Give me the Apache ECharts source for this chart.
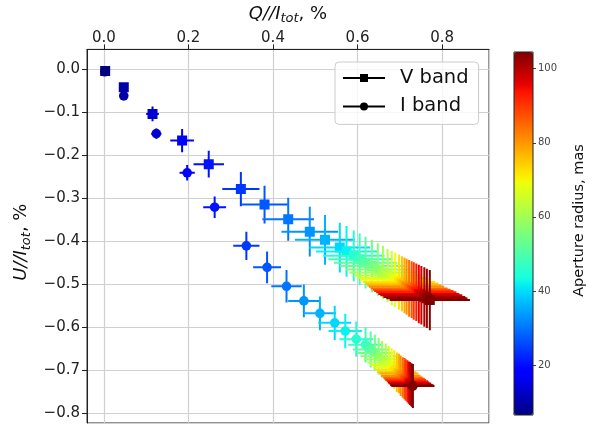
<!DOCTYPE html>
<html>
<head>
<meta charset="utf-8">
<script src="https://cdn.jsdelivr.net/npm/echarts@6/dist/echarts.min.js"></script>
<style>
html,body{margin:0;padding:0;background:#fff;}
#chart{width:600px;height:427px;}
</style>
</head>
<body>
<div id="chart"></div>
<script>
// Aperture radius (mas) for each measurement
var radii = [6.5, 10, 13.5, 17, 20.5, 24, 27, 30, 33, 36, 39.5, 42, 45, 48, 51, 54, 57, 60, 63, 66, 69, 72, 75, 78, 81, 84, 87, 90, 93, 96, 98.5, 101, 103, 104.5];

// V band
var vQ = [0.003, 0.047, 0.115, 0.185, 0.248, 0.324, 0.380, 0.436, 0.487, 0.523, 0.558, 0.574, 0.591, 0.605, 0.619, 0.634, 0.648, 0.660, 0.671, 0.681, 0.689, 0.698, 0.705, 0.711, 0.716, 0.722, 0.728, 0.733, 0.739, 0.745, 0.751, 0.758, 0.764, 0.771];
var vU = [-0.004, -0.042, -0.104, -0.166, -0.221, -0.279, -0.315, -0.349, -0.378, -0.397, -0.415, -0.424, -0.434, -0.442, -0.450, -0.458, -0.466, -0.473, -0.480, -0.486, -0.490, -0.495, -0.499, -0.503, -0.506, -0.510, -0.513, -0.516, -0.519, -0.523, -0.526, -0.530, -0.533, -0.537];
var vQerr = [0.006, 0.010, 0.015, 0.028, 0.036, 0.044, 0.055, 0.061, 0.067, 0.071, 0.072, 0.072, 0.073, 0.074, 0.075, 0.076, 0.077, 0.079, 0.080, 0.082, 0.083, 0.085, 0.086, 0.088, 0.089, 0.091, 0.092, 0.094, 0.095, 0.096, 0.097, 0.097, 0.096, 0.095];
var vUerr = [0.006, 0.010, 0.017, 0.027, 0.031, 0.040, 0.044, 0.050, 0.058, 0.058, 0.058, 0.059, 0.059, 0.060, 0.060, 0.061, 0.061, 0.062, 0.062, 0.063, 0.063, 0.064, 0.064, 0.065, 0.065, 0.066, 0.066, 0.067, 0.067, 0.068, 0.068, 0.069, 0.069, 0.070];

// I band
var iQ = [0.002, 0.047, 0.124, 0.197, 0.262, 0.337, 0.386, 0.432, 0.473, 0.511, 0.546, 0.571, 0.597, 0.619, 0.631, 0.641, 0.650, 0.658, 0.667, 0.674, 0.681, 0.687, 0.693, 0.698, 0.702, 0.707, 0.711, 0.714, 0.718, 0.721, 0.724, 0.727, 0.729, 0.731];
var iU = [-0.006, -0.062, -0.150, -0.241, -0.321, -0.411, -0.461, -0.505, -0.539, -0.568, -0.590, -0.609, -0.628, -0.641, -0.652, -0.660, -0.668, -0.675, -0.682, -0.688, -0.694, -0.699, -0.705, -0.708, -0.713, -0.717, -0.720, -0.723, -0.726, -0.729, -0.731, -0.734, -0.735, -0.737];
var iQerr = [0.005, 0.008, 0.012, 0.018, 0.027, 0.031, 0.033, 0.036, 0.037, 0.038, 0.039, 0.040, 0.040, 0.041, 0.042, 0.042, 0.043, 0.043, 0.044, 0.044, 0.045, 0.045, 0.046, 0.046, 0.047, 0.047, 0.048, 0.048, 0.049, 0.049, 0.050, 0.050, 0.051, 0.051];
var iUerr = [0.005, 0.008, 0.012, 0.018, 0.025, 0.033, 0.037, 0.038, 0.038, 0.039, 0.040, 0.040, 0.041, 0.041, 0.042, 0.042, 0.043, 0.043, 0.044, 0.044, 0.045, 0.045, 0.046, 0.046, 0.047, 0.047, 0.048, 0.048, 0.049, 0.049, 0.050, 0.050, 0.050, 0.051];

var colorbarTicks = [20, 40, 60, 80, 100];
var radiusMin = 6.5, radiusMax = 104.5;

// matplotlib "jet" colormap
function interp(pts, t) {
  for (var k = 1; k < pts.length; k++) {
    if (t <= pts[k][0]) {
      var a = pts[k - 1], b = pts[k];
      return a[1] + (b[1] - a[1]) * (t - a[0]) / (b[0] - a[0]);
    }
  }
  return pts[pts.length - 1][1];
}
var R = [[0, 0], [0.35, 0], [0.66, 1], [0.89, 1], [1, 0.5]];
var G = [[0, 0], [0.125, 0], [0.375, 1], [0.64, 1], [0.91, 0], [1, 0]];
var B = [[0, 0.5], [0.11, 1], [0.34, 1], [0.65, 0], [1, 0]];
var jet = [];
for (var s = 0; s <= 64; s++) {
  var t = s / 64;
  jet.push('rgb(' + Math.round(interp(R, t) * 255) + ',' + Math.round(interp(G, t) * 255) + ',' + Math.round(interp(B, t) * 255) + ')');
}

function build(q, u, qe, ue) {
  return q.map(function (v, k) { return [v, u[k], qe[k], ue[k], radii[k]]; });
}

function makeRender(shape) {
  return function (params, api) {
    var x = api.value(0), y = api.value(1), ex = api.value(2), ey = api.value(3);
    var c = api.visual('color');
    var p = api.coord([x, y]);
    var l = api.coord([x - ex, y]), r = api.coord([x + ex, y]);
    var t = api.coord([x, y + ey]), b = api.coord([x, y - ey]);
    var marker = shape === 'rect'
      ? { type: 'rect', shape: { x: p[0] - 5, y: p[1] - 5, width: 10, height: 10 }, style: { fill: c } }
      : { type: 'circle', shape: { cx: p[0], cy: p[1], r: 4.8 }, style: { fill: c } };
    return {
      type: 'group',
      children: [
        { type: 'line', shape: { x1: l[0], y1: l[1], x2: r[0], y2: r[1] }, style: { stroke: c, lineWidth: 2 } },
        { type: 'line', shape: { x1: t[0], y1: t[1], x2: b[0], y2: b[1] }, style: { stroke: c, lineWidth: 2 } },
        marker
      ]
    };
  };
}

function fmt(v) {
  return (v < -1e-9 ? '\u2212' : '') + Math.abs(v).toFixed(1);
}

var FONT = 'DejaVu Sans';
var chart = echarts.init(document.getElementById('chart'), null, { renderer: 'canvas' });
var titleRich = {
  i: { fontFamily: FONT, fontStyle: 'italic', fontSize: 18, color: '#111' },
  s: { fontFamily: FONT, fontStyle: 'italic', fontSize: 13, color: '#111', padding: [10, 0, 0, 0] },
  n: { fontFamily: FONT, fontSize: 18, color: '#111' }
};

chart.setOption({
  animation: false,
  backgroundColor: '#fff',
  grid: [
    { left: 87, top: 47, width: 402, height: 376, show: true, borderColor: '#222', borderWidth: 1, backgroundColor: 'transparent' },
    { left: 514, top: 52, width: 19, height: 363, show: true, borderColor: '#222', borderWidth: 1, backgroundColor: 'transparent', z: 10 }
  ],
  xAxis: [
    {
      type: 'value', gridIndex: 0, position: 'top', min: -0.04, max: 0.911, splitNumber: 5,
      name: '{i|Q//I}{s|tot}{n|, %}', nameLocation: 'middle', nameGap: 19,
      nameTextStyle: { rich: titleRich },
      axisLine: { show: true, onZero: false, lineStyle: { color: '#222', width: 1 } },
      axisTick: { show: true, length: 5, lineStyle: { color: '#222' } },
      axisLabel: { fontFamily: FONT, fontSize: 15, color: '#222', margin: 4, showMinLabel: false, showMaxLabel: false, formatter: fmt },
      splitLine: { show: true, lineStyle: { color: '#d0d0d0', width: 1.2 } }
    },
    { type: 'value', gridIndex: 1, min: 0, max: 1, show: false }
  ],
  yAxis: [
    {
      type: 'value', gridIndex: 0, min: -0.823, max: 0.046, splitNumber: 9,
      name: '{i|U//I}{s|tot}{n|, %}', nameLocation: 'middle', nameGap: 42, nameRotate: 90,
      nameTextStyle: { rich: titleRich, padding: [0, 12, 0, 0] },
      axisLine: { show: true, onZero: false, lineStyle: { color: '#222', width: 1 } },
      axisTick: { show: true, length: 5, lineStyle: { color: '#222' } },
      axisLabel: { fontFamily: FONT, fontSize: 15, color: '#222', margin: 7, showMinLabel: false, showMaxLabel: false, formatter: fmt },
      splitLine: { show: true, lineStyle: { color: '#d0d0d0', width: 1.2 } }
    },
    {
      type: 'value', gridIndex: 1, position: 'right', min: radiusMin, max: radiusMax, splitNumber: 5,
      name: 'Aperture radius, mas', nameLocation: 'middle', nameGap: 39, nameRotate: 90,
      nameTextStyle: { fontFamily: FONT, fontSize: 14.5, color: '#111', padding: [0, 0, 0, 26] },
      axisLine: { show: false, onZero: false },
      axisTick: { show: true, length: 3, customValues: colorbarTicks, lineStyle: { color: '#444' } },
      axisLabel: { fontFamily: FONT, fontSize: 10, color: '#444', margin: 5, customValues: colorbarTicks },
      splitLine: { show: false }
    }
  ],
  visualMap: {
    type: 'continuous', min: radiusMin, max: radiusMax, dimension: 4, seriesIndex: [0, 1],
    inRange: { color: jet }, calculable: false, hoverLink: false, realtime: false,
    left: 514, top: 52, itemWidth: 19, itemHeight: 363, padding: 0, text: null, show: true
  },
  legend: {
    orient: 'vertical', left: 335, top: 62, padding: [5, 10, 7, 7], itemGap: 6.4,
    itemWidth: 42, itemHeight: 10,
    backgroundColor: 'rgba(255,255,255,0.8)', borderColor: '#cccccc', borderWidth: 1, borderRadius: 4,
    textStyle: { fontFamily: FONT, fontSize: 19.5, color: '#111', lineHeight: 22, padding: [0, 0, 0, 10] },
    data: ['V band', 'I band'],
    selectedMode: false
  },
  series: [
    {
      type: 'custom', name: 'V data', xAxisIndex: 0, yAxisIndex: 0,
      renderItem: makeRender('rect'), data: build(vQ, vU, vQerr, vUerr), clip: true, z: 3
    },
    {
      type: 'custom', name: 'I data', xAxisIndex: 0, yAxisIndex: 0,
      renderItem: makeRender('circle'), data: build(iQ, iU, iQerr, iUerr), clip: true, z: 3
    },
    {
      type: 'line', name: 'V band', data: [], symbol: 'rect', symbolSize: 9,
      itemStyle: { color: '#000' }, lineStyle: { color: '#000', width: 1.5 }
    },
    {
      type: 'line', name: 'I band', data: [], symbol: 'circle', symbolSize: 9,
      itemStyle: { color: '#000' }, lineStyle: { color: '#000', width: 1.5 }
    }
  ]
});
</script>
</body>
</html>
